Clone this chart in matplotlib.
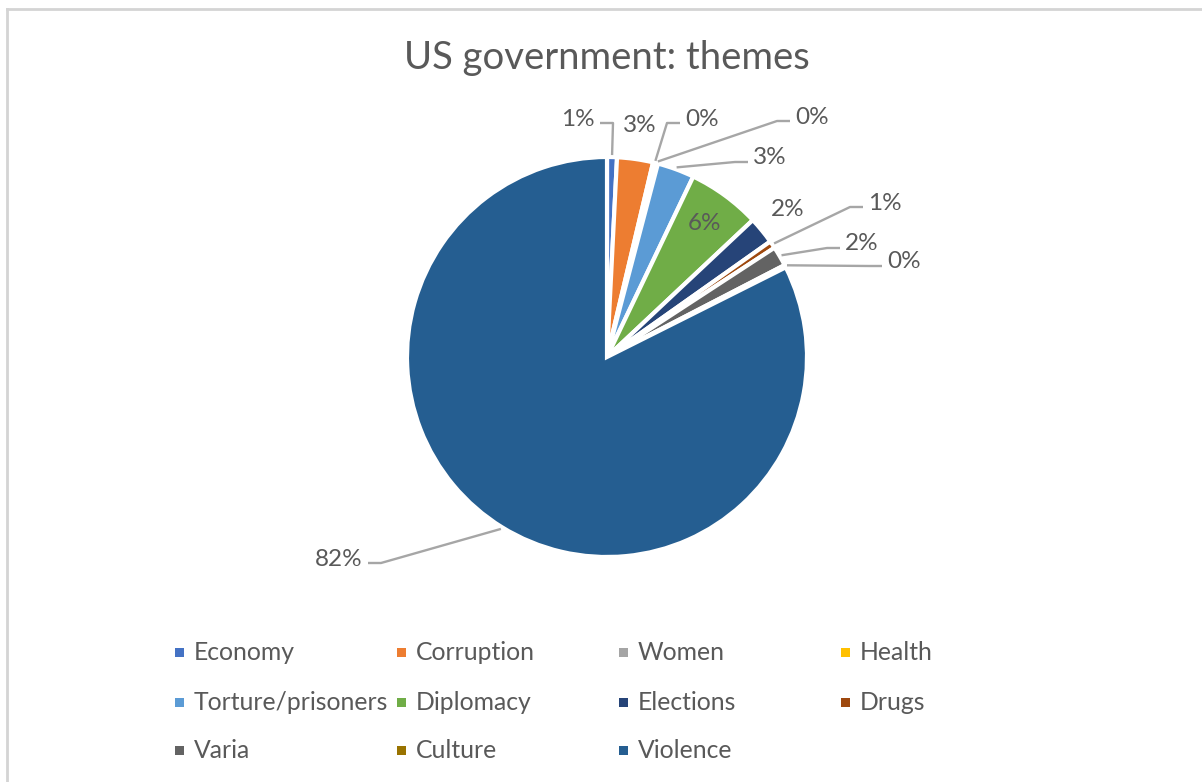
import matplotlib.pyplot as plt
from matplotlib.patches import Rectangle
from matplotlib.lines import Line2D
import numpy as np

plt.rcParams["font.family"] = ["Lato", "DejaVu Sans"]

# Canvas works in pixel units, y measured downward from the top edge
W, H = 1202, 782


def px(x, y):
    return x, H - y


themes = ["Economy", "Corruption", "Women", "Health", "Torture/prisoners",
          "Diplomacy", "Elections", "Drugs", "Varia", "Culture", "Violence"]
shares = [0.8, 2.9, 0.3, 0.1, 3.0, 5.9, 2.2, 0.6, 1.6, 0.2, 82.4]
colors = ["#4472C4", "#ED7D31", "#A5A5A5", "#FFC000", "#5B9BD5", "#70AD47",
          "#264478", "#9E480E", "#636363", "#997300", "#255E91"]

# label placement: ("plain", radius factor) or ("leader", line end, side)
label_layout = {
    "Economy": ("leader", (600, 123), "left"),
    "Corruption": ("plain", 1.17),
    "Women": ("leader", (680, 123), "right"),
    "Health": ("leader", (790, 121), "right"),
    "Torture/prisoners": ("leader", (748, 162), "right"),
    "Diplomacy": ("plain", 0.83),
    "Elections": ("plain", 1.165),
    "Drugs": ("leader", (863, 207), "right"),
    "Varia": ("leader", (840, 248), "right"),
    "Culture": ("leader", (882, 266), "right"),
    "Violence": ("leader", (368, 563), "left"),
}

text_col = "#595959"
line_col = "#a6a6a6"
cx, cy = px(607, 357)
R = 200

fig = plt.figure(figsize=(W / 100, H / 100), dpi=100)
ax = fig.add_axes([0, 0, 1, 1])
ax.pie(shares, colors=colors, startangle=90, counterclock=False,
       center=(cx, cy), radius=R,
       wedgeprops=dict(edgecolor="white", linewidth=3))
ax.set_xlim(0, W)
ax.set_ylim(0, H)
ax.set_aspect("equal")
ax.axis("off")

frac = np.array(shares) / sum(shares)
mids = np.radians((np.cumsum(frac) - frac / 2) * 360)

for name, val, th in zip(themes, shares, mids):
    label = f"{val:.0f}%"
    layout = label_layout[name]
    if layout[0] == "plain":
        r = R * layout[1]
        ax.text(cx + r * np.sin(th), cy + r * np.cos(th), label,
                ha="center", va="center", fontsize=17.5, color=text_col)
        continue
    _, end, side = layout
    ex, ey = px(*end)
    sign = 1 if side == "right" else -1
    ax0 = cx + (R + 2) * np.sin(th)
    ay0 = cy + (R + 2) * np.cos(th)
    ax.plot([ax0, ex - sign * 13, ex], [ay0, ey, ey],
            color=line_col, lw=1.7, solid_capstyle="butt")
    ax.text(ex + sign * 5, ey + 4, label, ha="left" if sign > 0 else "right",
            va="center", fontsize=17.5, color=text_col)

ax.text(*px(607, 58), "US government: themes", ha="center", va="center",
        fontsize=27.5, color=text_col)

# legend, laid out row by row in four columns
col_x = [175, 397, 619, 841]
row_y = [652, 702, 750]
for i, (name, c) in enumerate(zip(themes, colors)):
    sx, sy = col_x[i % 4], row_y[i // 4]
    ax.add_patch(Rectangle(px(sx, sy + 4.5), 9, 9, color=c, lw=0))
    ax.text(*px(sx + 19, sy), name, ha="left", va="center",
            fontsize=17.8, color=text_col)

# thin frame along the top and left edges
fig.add_artist(Line2D([7 / W, 1], [1 - 9 / H, 1 - 9 / H], color="#d4d4d4", lw=2))
fig.add_artist(Line2D([7 / W, 7 / W], [0, 1 - 9 / H], color="#d4d4d4", lw=2))

fig.savefig("out.png", dpi=100, facecolor="white")
